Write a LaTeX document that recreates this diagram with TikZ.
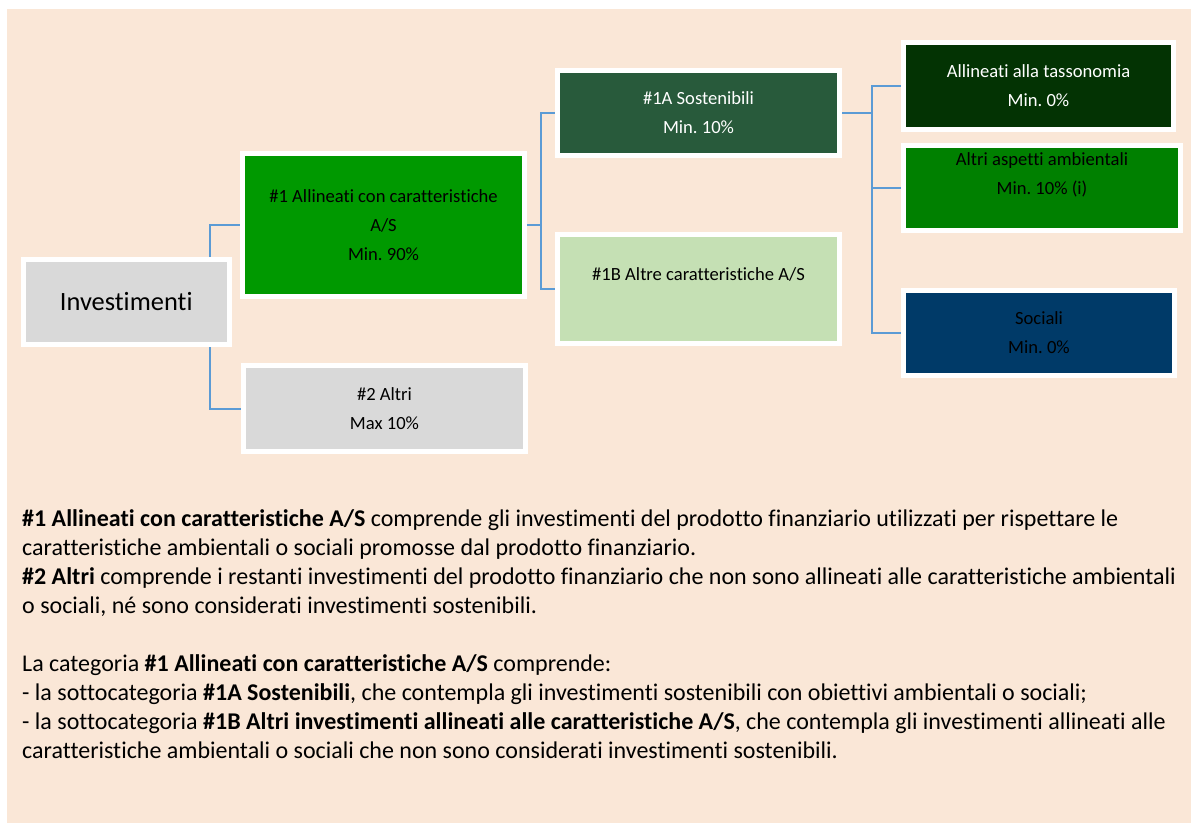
\documentclass[tikz,border=0pt]{standalone}
\usepackage{fontspec}
\setmainfont{Carlito}[Ligatures=NoCommon]
\frenchspacing
\usetikzlibrary{positioning}
\definecolor{panel}{HTML}{FAE7D7}
\definecolor{boxgrey}{HTML}{D9D9D9}
\definecolor{linkblue}{HTML}{5B9BD5}
\definecolor{greenmain}{HTML}{009900}
\definecolor{greensost}{HTML}{285A3B}
\definecolor{greenlight}{HTML}{C5E0B4}
\definecolor{greentax}{HTML}{033303}
\definecolor{greenenv}{HTML}{008000}
\definecolor{bluesoc}{HTML}{003A68}
\tikzset{
    box/.style={draw=white, line width=5pt, align=center, inner sep=0pt,
        font=\fontsize{18.6}{29}\selectfont},
    link/.style={draw=linkblue, line width=2pt},
}

\begin{document}
\begin{tikzpicture}[x=1pt,y=-1pt]
\useasboundingbox (0,0) rectangle (1191,823);
\fill[panel] (7,9) rectangle (1191,823);
\node[box, fill=boxgrey, minimum width=205.5pt, minimum height=85pt, font=\fontsize{26.4}{30}\selectfont] (inv) at (126.25,302) {Investimenti};
\node[box, fill=greenmain, minimum width=282pt, minimum height=143pt] (n1) at (383.5,225) {\#1 Allineati con caratteristiche\\A/S\\Min. 90\%};
\node[box, fill=boxgrey, minimum width=282pt, minimum height=86pt] (n2) at (384.5,408.5) {\#2 Altri\\Max 10\%};
\node[box, fill=greensost, text=white, minimum width=282pt, minimum height=85pt] (n1A) at (698.5,113) {\#1A Sostenibili\\Min. 10\%};
\node[box, fill=greenlight, minimum width=282pt, minimum height=109pt] (n1B) at (698.5,289) {\#1B Altre caratteristiche A/S\\\mbox{}};
\node[box, fill=greentax, text=white, minimum width=270pt, minimum height=87pt] (tax) at (1038.5,86) {Allineati alla tassonomia\\Min. 0\%};
\node[box, fill=greenenv, minimum width=277pt, minimum height=85pt] (env) at (1042,188) {Altri aspetti ambientali\\Min. 10\% (i)\\\mbox{}};
\node[box, fill=bluesoc, minimum width=271pt, minimum height=85pt] (soc) at (1039,333) {Sociali\\Min. 0\%};
\coordinate (j1) at ([xshift=14pt]n1.east);
\coordinate (j2) at ([xshift=30pt]n1A.east);
\draw[link] ([xshift=-22pt]inv.north east) |- (n1.west);
\draw[link] ([xshift=-22pt]inv.south east) |- (n2.west);
\draw[link] (n1.east) -- (j1) |- (n1A.west);
\draw[link] (j1) |- (n1B.west);
\draw[link] (n1A.east) -- (j2) |- (tax.west);
\draw[link] (j2) |- (env.west);
\draw[link] (j2) |- (soc.west);
\node[anchor=north west, align=left, inner sep=0pt, font=\fontsize{24}{29}\selectfont] (notes) at (22,509) {%
\textbf{\#1 Allineati con caratteristiche A/S} comprende gli investimenti del prodotto finanziario utilizzati per rispettare le\\
caratteristiche ambientali o sociali promosse dal prodotto finanziario.\\
\textbf{\#2 Altri} comprende i restanti investimenti del prodotto finanziario che non sono allineati alle caratteristiche ambientali\\
o sociali, né sono considerati investimenti sostenibili.\\[29pt]
La categoria \textbf{\#1 Allineati con caratteristiche A/S} comprende:\\
- la sottocategoria \textbf{\#1A Sostenibili}, che contempla gli investimenti sostenibili con obiettivi ambientali o sociali;\\
- la sottocategoria \textbf{\#1B Altri investimenti allineati alle caratteristiche A/S}, che contempla gli investimenti allineati alle\\
caratteristiche ambientali o sociali che non sono considerati investimenti sostenibili.};
\end{tikzpicture}
\end{document}
